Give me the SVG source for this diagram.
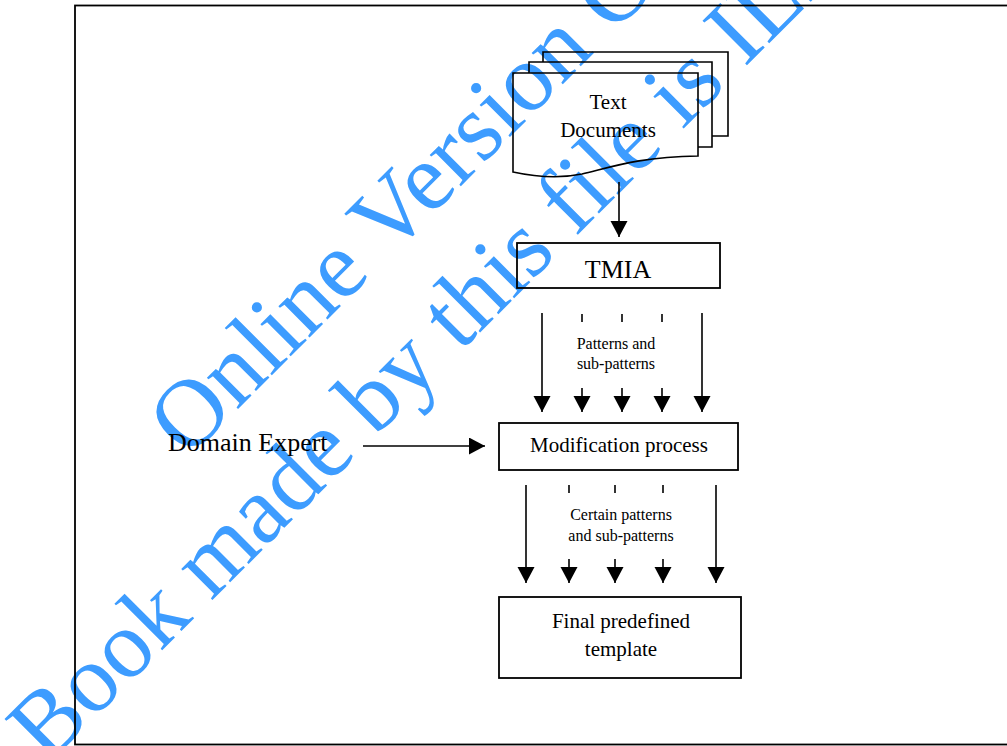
<svg xmlns="http://www.w3.org/2000/svg" width="1007" height="746" viewBox="0 0 1007 746">
<style>
.ln{stroke:#000;stroke-width:1.6;fill:none}
.bx{stroke:#000;stroke-width:1.8;fill:none}
.t{font-family:"Liberation Serif","Times New Roman",serif;fill:#000}
.wm{font-family:"Liberation Serif","Times New Roman",serif;font-size:96px;fill:#3d9cff;text-anchor:middle}
</style>
<defs>
<marker id="ah" markerUnits="userSpaceOnUse" markerWidth="18" markerHeight="18" refX="16" refY="8.5" orient="auto">
<path d="M0,0 L16,8.5 L0,17 Z" fill="#000"/>
</marker>
</defs>
<rect width="1007" height="746" fill="#fff"/>
<g id="watermark" transform="translate(474,173) rotate(-45)">
<text class="wm" x="0" y="0">Online Version Only.</text>
<text class="wm" x="-13" y="117">Book made by this file is ILLEGAL.</text>
</g>
<rect id="frame" x="75" y="5.5" width="1000" height="739" class="bx"/>
<g id="text-documents">
<path class="ln" d="M543,62 V52 H728 V136 H712"/>
<path class="ln" d="M529,73 V62 H712 V147 H698"/>
<path class="ln" d="M513,172 V73 H698 V156 C640,157 615,166 582,174 C558,179 536,177 513,172 Z"/>
<text class="t" x="608" y="109" font-size="21" text-anchor="middle">Text</text>
<text class="t" x="608" y="137" font-size="21" text-anchor="middle">Documents</text>
</g>
<g id="tmia">
<rect class="bx" x="517" y="243" width="203" height="45"/>
<text class="t" x="618" y="278" font-size="26" text-anchor="middle">TMIA</text>
</g>
<g id="modification">
<rect class="bx" x="499" y="423" width="239" height="47"/>
<text class="t" x="619" y="452" font-size="21" text-anchor="middle">Modification process</text>
</g>
<g id="final">
<rect class="bx" x="499" y="597" width="242" height="81"/>
<text class="t" x="621" y="628" font-size="21" text-anchor="middle">Final predefined</text>
<text class="t" x="621" y="656" font-size="21" text-anchor="middle">template</text>
</g>
<g id="domain-expert">
<text class="t" x="168" y="451" font-size="26">Domain Expert</text>
</g>
<g id="connectors">
<line class="ln" x1="619" y1="182" x2="619" y2="237" marker-end="url(#ah)"/>
<line class="ln" x1="363" y1="446" x2="485" y2="446" marker-end="url(#ah)"/>
<line class="ln" x1="542" y1="313" x2="542" y2="412" marker-end="url(#ah)"/>
<line class="ln" x1="702" y1="313" x2="702" y2="412" marker-end="url(#ah)"/>
<line class="ln" x1="582" y1="314" x2="582" y2="322"/>
<line class="ln" x1="622" y1="314" x2="622" y2="322"/>
<line class="ln" x1="662" y1="314" x2="662" y2="322"/>
<line class="ln" x1="582" y1="388" x2="582" y2="412" marker-end="url(#ah)"/>
<line class="ln" x1="622" y1="388" x2="622" y2="412" marker-end="url(#ah)"/>
<line class="ln" x1="662" y1="388" x2="662" y2="412" marker-end="url(#ah)"/>
<text class="t" x="616" y="349" font-size="16" text-anchor="middle">Patterns and</text>
<text class="t" x="616" y="369" font-size="16" text-anchor="middle">sub-patterns</text>
<line class="ln" x1="526" y1="485" x2="526" y2="583" marker-end="url(#ah)"/>
<line class="ln" x1="716" y1="485" x2="716" y2="583" marker-end="url(#ah)"/>
<line class="ln" x1="569" y1="485" x2="569" y2="493"/>
<line class="ln" x1="615" y1="485" x2="615" y2="493"/>
<line class="ln" x1="663" y1="485" x2="663" y2="493"/>
<line class="ln" x1="569" y1="559" x2="569" y2="583" marker-end="url(#ah)"/>
<line class="ln" x1="615" y1="559" x2="615" y2="583" marker-end="url(#ah)"/>
<line class="ln" x1="663" y1="559" x2="663" y2="583" marker-end="url(#ah)"/>
<text class="t" x="621" y="520" font-size="16" text-anchor="middle">Certain patterns</text>
<text class="t" x="621" y="541" font-size="16" text-anchor="middle">and sub-patterns</text>
</g>
</svg>
